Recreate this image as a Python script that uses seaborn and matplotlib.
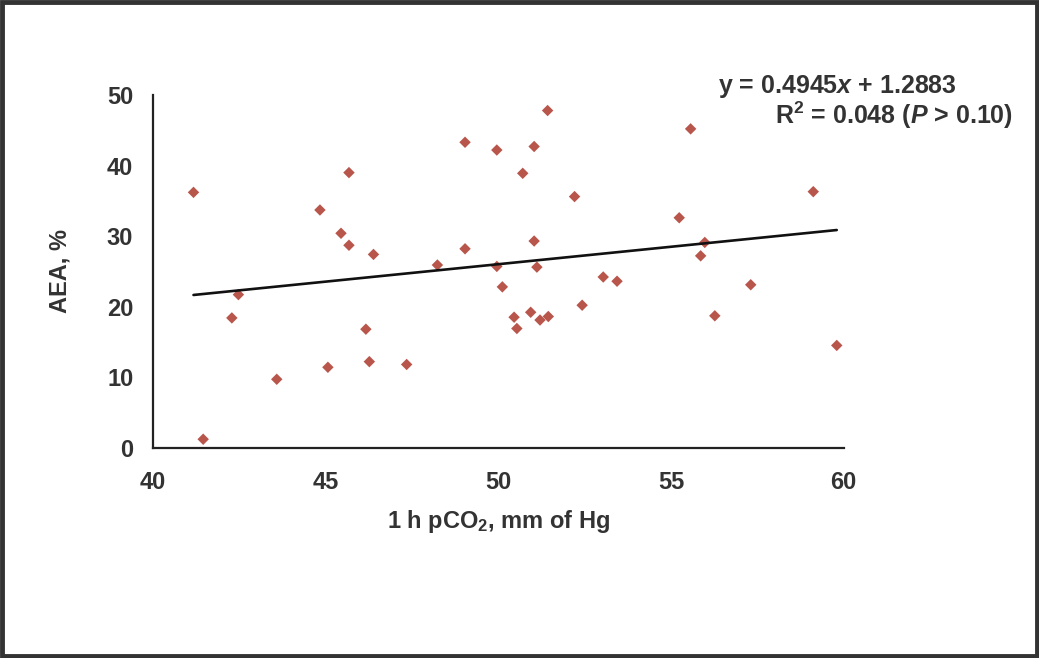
import matplotlib
matplotlib.use("Agg")
import matplotlib.pyplot as plt
import numpy as np
import pandas as pd
import seaborn as sns
from matplotlib.patches import Rectangle

# values
pco2 = [41.18, 41.46, 42.29, 42.48, 43.59, 44.84, 45.07, 45.45, 45.68, 45.68,
        46.17, 46.27, 46.39, 47.35, 48.24, 49.04, 49.04,
        51.43, 49.96, 51.04, 50.71, 52.21, 55.57, 59.12, 55.24, 51.04, 49.96,
        51.12, 50.12, 53.04, 53.44, 55.98, 55.86, 57.31, 52.43, 50.46, 50.54,
        50.94, 51.21, 51.45, 56.27, 59.80]
aea = [36.2, 1.2, 18.4, 21.7, 9.7, 33.7, 11.4, 30.4, 39.0, 28.7,
       16.8, 12.2, 27.4, 11.8, 25.9, 43.3, 28.2,
       47.8, 42.2, 42.7, 38.9, 35.6, 45.2, 36.3, 32.6, 29.3, 25.7,
       25.6, 22.8, 24.2, 23.6, 29.1, 27.2, 23.1, 20.2, 18.5, 16.9,
       19.2, 18.1, 18.6, 18.7, 14.5]
slope = 0.4945
intercept = 1.2883
r2 = 0.048

df = pd.DataFrame({"pco2": pco2, "aea": aea})

sns.set_style("white")
plt.rcParams["font.family"] = ["Liberation Sans", "DejaVu Sans"]
plt.rcParams["font.weight"] = "bold"
plt.rcParams["mathtext.fontset"] = "custom"
plt.rcParams["mathtext.rm"] = "Liberation Sans:bold"
plt.rcParams["mathtext.it"] = "Liberation Sans:bold:italic"

text_color = "#333333"
fs = 17

fig = plt.figure(figsize=(10.39, 6.58), dpi=100)
ax = fig.add_axes([0.147, 0.3196, 0.665, 0.536])

sns.scatterplot(data=df, x="pco2", y="aea", marker="D", s=34,
                color="#b9564c", edgecolor="none", ax=ax, zorder=2)

xs = np.array([min(pco2), max(pco2)])
line_df = pd.DataFrame({"x": xs, "y": slope * xs + intercept})
sns.lineplot(data=line_df, x="x", y="y", color="#111111", linewidth=1.9,
             ax=ax, zorder=3)

ax.set_xlim(40, 60)
ax.set_ylim(0, 50)
ax.set_xticks([40, 45, 50, 55, 60])
ax.set_yticks([0, 10, 20, 30, 40, 50])
sns.despine(ax=ax)
for side in ["left", "bottom"]:
    ax.spines[side].set_color("#222222")
    ax.spines[side].set_linewidth(1.6)
ax.tick_params(axis="both", direction="out", length=5, width=1.4,
               colors="#222222", labelsize=fs, labelcolor=text_color)
ax.tick_params(axis="x", pad=12)
ax.tick_params(axis="y", pad=9)
for lab in ax.get_xticklabels() + ax.get_yticklabels():
    lab.set_fontweight("bold")

ax.set_xlabel("1 h pCO$_2$, mm of Hg", fontsize=fs, fontweight="bold",
              color=text_color, va="center")
ax.set_ylabel("AEA, %", fontsize=fs, fontweight="bold", color=text_color,
              va="center")
ax.xaxis.set_label_coords(0.5, -0.21)
ax.yaxis.set_label_coords(-0.134, 0.5)

fig.text(0.691, 0.868, f"y = {slope}$x$ + {intercept}", fontsize=18,
         fontweight="bold", color=text_color, ha="left", va="center")
fig.text(0.975, 0.825, f"R$^2$ = {r2} ($P$ > 0.10)", fontsize=18,
         fontweight="bold", color=text_color, ha="right", va="center")

fig.patches.append(Rectangle((0.002, 0.003), 0.996, 0.994,
                             transform=fig.transFigure, fill=False,
                             edgecolor="#333333", linewidth=3.5))

fig.savefig("out.png", dpi=100)
